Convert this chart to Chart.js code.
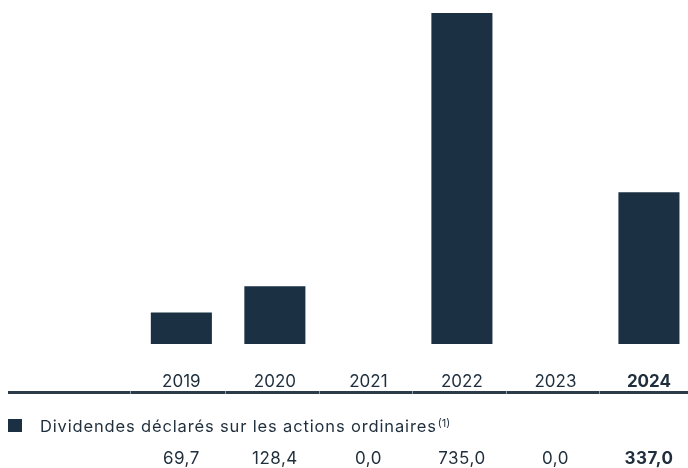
<!DOCTYPE html>
<html lang="fr">
<head>
<meta charset="utf-8">
<script src="https://cdn.jsdelivr.net/npm/chart.js@4.4.1/dist/chart.umd.min.js"></script>
<style>
  html, body { margin: 0; padding: 0; background: #ffffff; overflow: hidden; }
  #cadre { width: 699px; height: 468px; }
</style>
</head>
<body>
<div id="cadre"><canvas id="graphique" width="699" height="468"></canvas></div>
<script>
// Données du graphique
const annees = ['2019', '2020', '2021', '2022', '2023', '2024'];
const dividendes = [69.7, 128.4, 0.0, 735.0, 0.0, 337.0];
const legende = 'Dividendes déclarés sur les actions ordinaires';
const renvoi = '(1)';

const couleurBarre = '#1b3143';
const couleurTexte = '#1f2e3c';
const police = 'Inter, "Noto Sans", sans-serif';

// Format français : 69,7
function formater(valeur) {
    return valeur.toFixed(1).replace('.', ',');
}

// Ligne de séparation, légende et rangée de valeurs sous l'axe
const tableau = {
    id: 'tableau',
    afterDraw(chart) {
        const ctx = chart.ctx;
        const x = chart.scales.x;
        ctx.save();

        ctx.fillStyle = '#2b3b4a';
        ctx.fillRect(8, 391, 690, 3);
        // petites coupures entre les colonnes
        ctx.fillStyle = '#8d99a3';
        for (let i = 0; i < annees.length; i++) {
            const gauche = i === 0 ? x.left - 5 : (x.getPixelForValue(i - 1) + x.getPixelForValue(i)) / 2 - 3;
            ctx.fillRect(Math.round(gauche), 391, 1, 3);
        }

        ctx.fillStyle = couleurBarre;
        ctx.fillRect(8, 419, 14, 13);

        ctx.fillStyle = couleurTexte;
        ctx.textBaseline = 'middle';
        ctx.textAlign = 'left';
        ctx.letterSpacing = '0.85px';
        ctx.font = '16.5px ' + police;
        ctx.fillText(legende, 40, 427);
        const largeur = ctx.measureText(legende).width;
        ctx.letterSpacing = '0px';
        ctx.font = '11px ' + police;
        ctx.fillText(renvoi, 40 + largeur + 1, 424);

        ctx.textAlign = 'center';
        ctx.letterSpacing = '0.5px';
        dividendes.forEach((valeur, i) => {
            const gras = i === dividendes.length - 1 ? 'bold ' : '';
            ctx.font = gras + '17px ' + police;
            ctx.fillText(formater(valeur), x.getPixelForValue(i), 459);
        });
        ctx.restore();
    }
};

new Chart(document.getElementById('graphique'), {
    type: 'bar',
    data: {
        labels: annees,
        datasets: [{
            label: legende,
            data: dividendes,
            backgroundColor: couleurBarre,
            borderWidth: 0,
            categoryPercentage: 1,
            barPercentage: 0.653,
        }],
    },
    options: {
        responsive: false,
        animation: false,
        layout: {
            padding: { top: 13, left: 134.6, right: 0, bottom: 47.6 },
        },
        plugins: {
            legend: { display: false },
            tooltip: { enabled: false },
        },
        scales: {
            x: {
                grid: { display: false, drawTicks: false },
                border: { display: false },
                ticks: {
                    padding: 28,
                    color: couleurTexte,
                    maxRotation: 0,
                    font: (c) => ({
                        family: police,
                        size: 17,
                        weight: c.index === annees.length - 1 ? 'bold' : 'normal',
                    }),
                },
            },
            y: {
                display: false,
                min: 0,
                max: Math.max(...dividendes),
            },
        },
    },
    plugins: [tableau],
});
</script>
</body>
</html>
